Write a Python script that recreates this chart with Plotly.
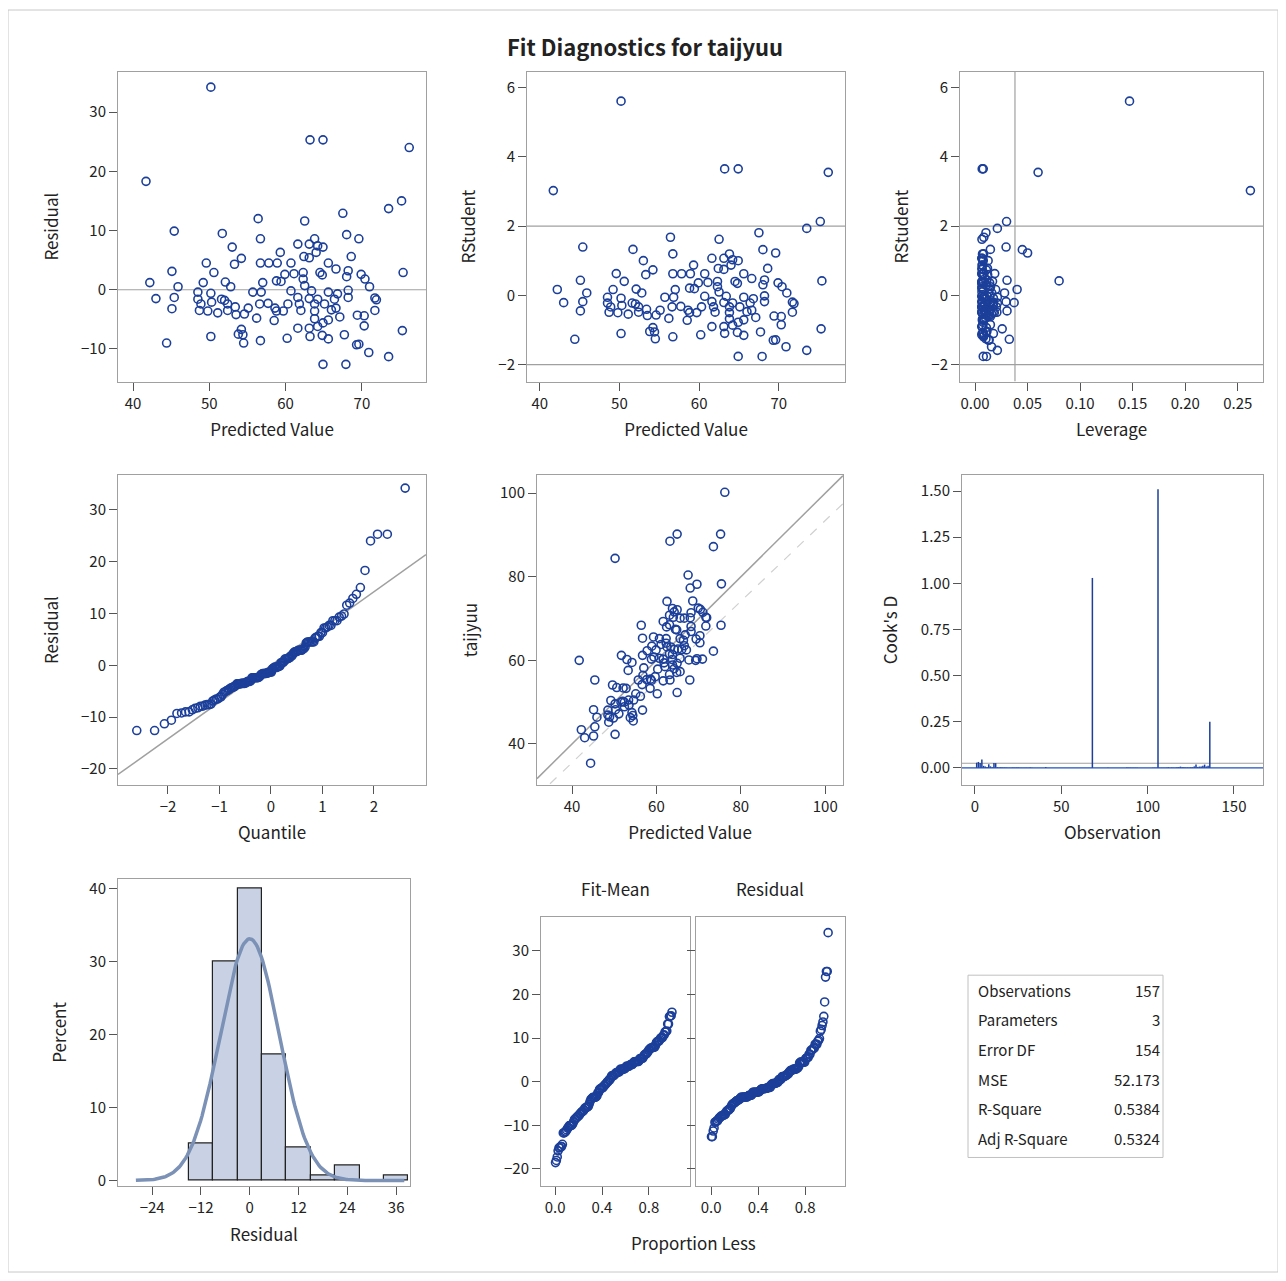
import numpy as np
import plotly.graph_objects as go
from math import erf

pred = [50.2,63.2,64.9,76.2,41.7,73.5,75.2,67.5,56.4,62.5,45.4,51.7,56.7,68.0,69.6,53.0,61.6,63.8,63.1,64.2,64.9,59.3,62.4,63.1,64.0,54.2,68.6,49.6,53.3,56.7,57.8,58.9,60.7,65.6,45.1,50.6,59.9,61.1,62.3,64.5,66.6,68.2,69.9,75.4,42.2,49.2,52.1,57.0,58.8,59.4,62.3,64.8,68.0,70.4,45.9,52.8,62.5,71.0,48.5,50.2,55.7,56.8,60.7,63.4,65.6,66.8,68.2,43.0,45.4,48.5,51.6,52.0,61.6,63.1,64.2,68.2,71.7,71.9,48.9,50.3,52.4,53.4,56.6,57.7,60.3,61.8,63.8,65.1,66.4,45.1,48.7,49.8,51.1,52.4,53.5,54.6,55.1,58.6,58.8,59.7,62.0,63.8,66.0,66.6,71.7,56.2,58.5,63.8,65.6,67.1,69.4,70.3,70.3,61.6,63.1,64.2,64.9,54.2,53.8,50.2,54.4,56.7,60.2,63.2,64.8,65.6,67.7,75.3,44.4,54.5,69.3,69.6,70.9,73.5,64.9,67.9]
resid = [34.2,25.3,25.3,24.0,18.3,13.7,15.0,12.9,12.0,11.6,9.9,9.5,8.6,9.3,8.6,7.2,7.7,8.6,7.7,7.4,7.2,6.3,5.6,5.4,6.3,5.3,5.6,4.5,4.3,4.5,4.5,4.5,4.5,4.5,3.1,2.9,2.6,2.7,2.9,2.9,3.5,3.2,2.6,2.9,1.2,1.2,1.3,1.2,1.5,1.4,1.8,2.5,2.2,1.8,0.5,0.5,0.7,0.5,-0.4,-0.6,-0.4,-0.4,-0.2,-0.2,-0.4,-0.7,-0.1,-1.5,-1.3,-1.6,-1.6,-1.8,-1.3,-1.5,-1.6,-1.3,-1.4,-1.7,-2.4,-2.1,-2.4,-2.9,-2.4,-2.3,-2.4,-2.4,-2.4,-2.4,-1.6,-3.2,-3.5,-3.6,-3.9,-3.5,-4.2,-4.1,-3.1,-3.1,-3.6,-3.6,-3.5,-3.6,-3.4,-3.1,-3.5,-4.8,-5.2,-4.9,-5.1,-4.6,-4.3,-4.4,-6.1,-6.5,-6.5,-6.2,-5.6,-6.7,-7.5,-7.9,-7.6,-8.6,-8.2,-7.9,-7.7,-8.3,-7.6,-6.9,-9.0,-9.0,-9.3,-9.2,-10.6,-11.3,-12.6,-12.6]
leverage_override = {0: 0.147, 4: 0.262, 3: 0.060, 43: 0.080, 6: 0.030, 13: 0.045, 14: 0.050}
special_obs = {4: 68, 0: 106, 3: 136}
hist_mid = [-12, -6, 0, 6, 12, 18, 24, 30, 36]
hist_pct = [5.0, 30.0, 40.0, 17.3, 4.5, 0.7, 2.0, 0.0, 0.7]
stat_labels = ["Observations", "Parameters", "Error DF", "MSE", "R-Square", "Adj R-Square"]
stat_values = ["157", "3", "154", "52.173", "0.5384", "0.5324"]

N, P, MSE = 157, 3, 52.173
pred_a = np.array(pred); res_a = np.array(resid)
lev = 1 / N + (pred_a - 61) ** 2 / 10500
for k, v in leverage_override.items():
    lev[k] = v
r_int = res_a / np.sqrt(MSE * (1 - lev))
rstud = r_int * np.sqrt((N - P - 1) / (N - P - r_int ** 2))
cook = r_int ** 2 / P * lev / (1 - lev)
obs_y = pred_a + res_a
free = [o for o in range(1, N + 1) if o not in special_obs.values()]
obsnum = []
fi = 0
for k in range(len(pred)):
    if k in special_obs:
        obsnum.append(special_obs[k])
    else:
        obsnum.append(free[fi]); fi += 1

def ppf(p):
    lo, hi = -8.0, 8.0
    for _ in range(60):
        m = (lo + hi) / 2
        if 0.5 * (1 + erf(m / np.sqrt(2))) < p: lo = m
        else: hi = m
    return (lo + hi) / 2
n = len(resid)
srt = np.sort(res_a)
q = np.array([ppf((i + 1 - 0.375) / (n + 0.25)) for i in range(n)])
prop = (np.arange(n) + 0.5) / n
fitmean = np.sort(pred_a - pred_a.mean())

OFF = 8
W, H = 1270, 1267
def dx(a, b): return [(a - OFF) / W, (b - OFF) / W]
def dy(t, b): return [1 - (b - OFF) / H, 1 - (t - OFF) / H]
def px(x): return (x - OFF) / W
def py(y): return 1 - (y - OFF) / H

BLUE = "#1c3f9a"
GRID = "#a0a0a0"
FONT = "Noto Sans CJK JP"
mk = dict(symbol="circle-open", size=8, color=BLUE, line=dict(width=1.6, color=BLUE))
fig = go.Figure()

panels = [
    ("1", (118, 426), (70, 381), [38.03, 78.4], [-15.5, 36.8], [40, 50, 60, 70], [-10, 0, 10, 20, 30], "Predicted Value", "Residual"),
    ("2", (527, 845), (70, 381), [38.4, 78.3], [-2.49, 6.46], [40, 50, 60, 70], [-2, 0, 2, 4, 6], "Predicted Value", "RStudent"),
    ("3", (960, 1263), (70, 381), [-0.0143, 0.274], [-2.49, 6.46], [0, 0.05, 0.1, 0.15, 0.2, 0.25], [-2, 0, 2, 4, 6], "Leverage", "RStudent"),
    ("4", (118, 426), (475, 786), [-2.97, 3.01], [-23.1, 36.7], [-2, -1, 0, 1, 2], [-20, -10, 0, 10, 20, 30], "Quantile", "Residual"),
    ("5", (537, 843), (475, 786), [31.7, 104.2], [30.2, 104.3], [40, 60, 80, 100], [40, 60, 80, 100], "Predicted Value", "taijyuu"),
    ("6", (962, 1263), (475, 786), [-7.5, 166.8], [-0.092, 1.586], [0, 50, 100, 150], [0, 0.25, 0.5, 0.75, 1.0, 1.25, 1.5], "Observation", "Cook's D"),
    ("7", (118, 410), (880, 1189), [-32.4, 39.4], [-0.8, 41.4], [-24, -12, 0, 12, 24, 36], [0, 10, 20, 30, 40], "Residual", "Percent"),
    ("8", (541, 690), (919, 1189), [-0.12, 1.15], [-24, 37.7], [0, 0.4, 0.8], [-20, -10, 0, 10, 20, 30], None, None),
    ("9", (696, 845), (919, 1189), [-0.128, 1.14], [-24, 37.7], [0, 0.4, 0.8], [-20, -10, 0, 10, 20, 30], None, None),
]
xfmt = {"3": ".2f", "8": ".1f", "9": ".1f"}
yfmt = {"6": ".2f"}
for name, xp, yp, xr, yr, tx, ty, xt, yt in panels:
    sfx = "" if name == "1" else name
    fig.layout["xaxis" + sfx] = dict(domain=dx(*xp), range=xr, anchor="y" + sfx, tickvals=tx,
        tickformat=xfmt.get(name, ""), ticks="outside", ticklen=8, tickcolor="#555",
        showline=True, linecolor=GRID, mirror=True, showgrid=False, zeroline=False,
        title=dict(text=xt, standoff=12, font=dict(size=17)) if xt else None, tickfont=dict(size=15))
    fig.layout["yaxis" + sfx] = dict(domain=dy(*yp), range=yr, anchor="x" + sfx, tickvals=ty,
        tickformat=yfmt.get(name, ""), ticks="outside", ticklen=8, tickcolor="#555",
        showline=True, linecolor=GRID, mirror=True, showgrid=False, zeroline=False,
        showticklabels=(name != "9"),
        title=dict(text=yt, standoff=18, font=dict(size=17)) if yt else None, tickfont=dict(size=15))

def sc(x, y, ax, **kw):
    fig.add_trace(go.Scatter(x=x, y=y, xaxis="x" + ("" if ax == "1" else ax), yaxis="y" + ("" if ax == "1" else ax),
                             showlegend=False, hoverinfo="skip", **kw))
def hline(ax, y, xr, color=GRID, dash=None):
    sc(xr, [y, y], ax, mode="lines", line=dict(color=color, width=1.2, dash=dash))

hline("1", 0, [38.03, 78.4])
sc(pred, resid, "1", mode="markers", marker=mk)
for yv in (-2, 2):
    hline("2", yv, [38.4, 78.3]); hline("3", yv, [-0.0143, 0.274])
sc(list(pred_a), list(rstud), "2", mode="markers", marker=mk)
sc([0.038, 0.038], [-2.49, 6.46], "3", mode="lines", line=dict(color=GRID, width=1.2))
sc(list(lev), list(rstud), "3", mode="markers", marker=mk)
sc([-2.97, 3.01], [-2.97 * 7.1, 3.01 * 7.1], "4", mode="lines", line=dict(color=GRID, width=1.5))
sc(list(q), list(srt), "4", mode="markers", marker=mk)
sc([31.7, 104.2], [31.7, 104.2], "5", mode="lines", line=dict(color=GRID, width=1.5))
sc([31.7, 104.2], [27.5, 97.5], "5", mode="lines", line=dict(color="#d0d0d0", width=1.2, dash="dash"))
sc(list(pred_a), list(obs_y), "5", mode="markers", marker=mk)
hline("6", 4 / N, [-7.5, 166.8])
nx, ny = [], []
for o, d in zip(obsnum, cook):
    nx += [o, o, None]; ny += [0, d, None]
sc(nx, ny, "6", mode="lines", line=dict(color=BLUE, width=1.5))
hline("6", 0, [-7.5, 166.8], color="#2050c0")
fig.add_trace(go.Bar(x=hist_mid, y=hist_pct, width=6, xaxis="x7", yaxis="y7", showlegend=False,
                     marker=dict(color="#c9d2e4", line=dict(color="#222", width=1.2))))
gx = np.linspace(-28, 38, 200)
sc(gx, 6 * 100 * np.exp(-gx ** 2 / (2 * MSE)) / np.sqrt(2 * np.pi * MSE), "7", mode="lines",
   line=dict(color="#7b91b6", width=3.5))
sc(list(prop), list(fitmean), "8", mode="markers", marker=mk)
sc(list(prop), list(srt), "9", mode="markers", marker=mk)

ann = [dict(text="<b>Fit Diagnostics for taijyuu</b>", x=px(645), y=py(44), font=dict(size=22)),
       dict(text="Fit-Mean", x=px(615), y=py(890), font=dict(size=17)),
       dict(text="Residual", x=px(770), y=py(890), font=dict(size=17)),
       dict(text="Proportion Less", x=px(693), y=py(1245), font=dict(size=17))]
for i, (lab, val) in enumerate(zip(stat_labels, stat_values)):
    yy = py(992 + i * 29.8)
    ann.append(dict(text=lab, x=px(976), y=yy, xanchor="left", font=dict(size=15)))
    ann.append(dict(text=val, x=px(1162), y=yy, xanchor="right", font=dict(size=15)))
for a in ann:
    a.update(xref="paper", yref="paper", showarrow=False, yanchor="middle")
    a.setdefault("xanchor", "center")
fig.update_layout(annotations=ann,
    shapes=[dict(type="rect", xref="paper", yref="paper", x0=0, x1=1, y0=0, y1=1,
                 line=dict(color="#c8c8c8", width=1)),
            dict(type="rect", xref="paper", yref="paper", x0=px(968), x1=px(1163), y0=py(1160), y1=py(977),
                 line=dict(color="#c0c0c0", width=1))],
    width=W, height=H, margin=dict(l=0, r=0, t=0, b=0), paper_bgcolor="white", plot_bgcolor="white",
    font=dict(family=FONT, color="#222"), bargap=0)
fig.write_html("out.html")
